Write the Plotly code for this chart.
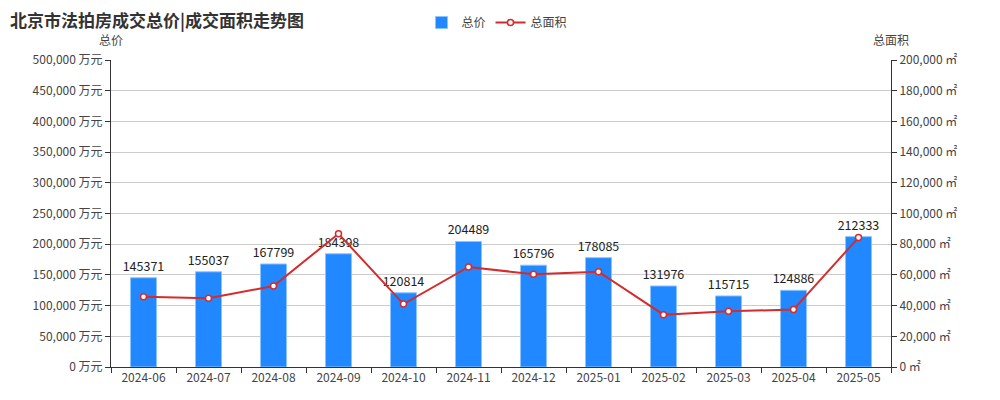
import plotly.graph_objects as go

months = ["2024-06", "2024-07", "2024-08", "2024-09", "2024-10", "2024-11",
          "2024-12", "2025-01", "2025-02", "2025-03", "2025-04", "2025-05"]
total_price = [145371, 155037, 167799, 184398, 120814, 204489,
               165796, 178085, 131976, 115715, 124886, 212333]
total_area = [45800, 44750, 52800, 86800, 41000, 65200,
              60400, 62100, 34100, 36300, 37400, 84300]

FONT = "Microsoft YaHei, Noto Sans CJK SC, sans-serif"

# page body has an 8px margin: figure is shrunk/shifted to compensate
W, H = 992, 392
L, R, T, B = 103, 109, 52, 33
PW, PH = W - L - R, H - T - B

fig = go.Figure()
fig.add_trace(go.Bar(
    x=months, y=total_price, name="总价",
    marker=dict(color="#2288ff", line=dict(color="#8cc4ff", width=1)),
    width=0.4,
    text=[str(v) for v in total_price], textposition="outside",
    constraintext="none",
    textfont=dict(color="#222", size=12.5), cliponaxis=False,
    yaxis="y",
))
fig.add_trace(go.Scatter(
    x=months, y=total_area, name="总面积", mode="lines+markers",
    line=dict(color="#d42c2c", width=2),
    marker=dict(symbol="circle", size=6, color="white",
                line=dict(color="#d42c2c", width=1.5)),
    yaxis="y2",
))

fig.update_layout(
    width=W, height=H,
    margin=dict(l=L, r=R, t=T, b=B, autoexpand=False),
    paper_bgcolor="white", plot_bgcolor="white",
    font=dict(family=FONT, size=12, color="#444"),
    showlegend=True,
    legend=dict(orientation="h", x=(497 - 8) / W, xref="container", xanchor="center",
                y=1.0, yanchor="top", yref="container",
                font=dict(size=12, color="#444"), bgcolor="rgba(0,0,0,0)"),
    xaxis=dict(type="category", range=[-0.5, len(months) - 0.5],
               showline=True, linecolor="#333", linewidth=1,
               ticks="outside", tickson="boundaries", ticklen=5, tickcolor="#333",
               showgrid=False, automargin=False, tickfont=dict(size=12, color="#444")),
    yaxis=dict(range=[0, 500000], dtick=50000, tickformat=",d", ticksuffix=" 万元",
               showline=True, linecolor="#333", linewidth=1, ticks="outside",
               ticklen=5, tickcolor="#333", showgrid=True, gridcolor="#cccccc",
               zeroline=False, automargin=False, tickfont=dict(size=12, color="#444")),
    yaxis2=dict(range=[0, 200000], dtick=20000, tickformat=",d", ticksuffix=" ㎡",
                overlaying="y", side="right", showline=True, linecolor="#333",
                linewidth=1, ticks="outside", ticklen=5, tickcolor="#333",
                showgrid=False, zeroline=False, automargin=False,
                tickfont=dict(size=12, color="#444")),
    annotations=[
        dict(text="<b>北京市法拍房成交总价|成交面积走势图</b>", xref="paper", yref="paper",
             x=-(L - 1) / PW, y=1 + (T - 11.5) / PH, xanchor="left", yanchor="middle",
             borderpad=0, showarrow=False, font=dict(size=17, color="#333")),
        dict(text="总价", xref="paper", yref="paper", x=0, y=1 + 20 / PH,
             xanchor="center", yanchor="middle", borderpad=0, showarrow=False,
             font=dict(size=12, color="#444")),
        dict(text="总面积", xref="paper", yref="paper", x=1, y=1 + 20 / PH,
             xanchor="center", yanchor="middle", borderpad=0, showarrow=False,
             font=dict(size=12, color="#444")),
    ],
)

fig.write_html("out.html")
